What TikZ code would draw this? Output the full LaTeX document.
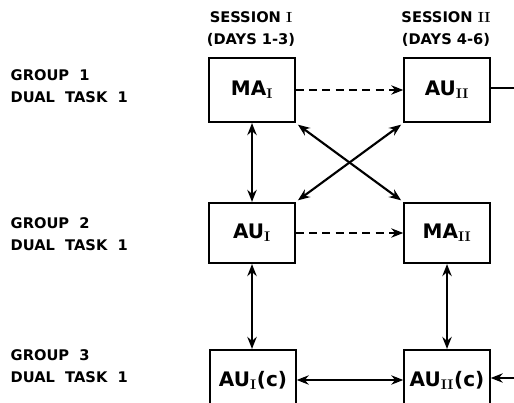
\documentclass[tikz,border=0pt]{standalone}
\usepackage{fontspec}
\setsansfont{DejaVu Sans}
\usetikzlibrary{arrows.meta}

\begin{document}
\begin{tikzpicture}[x=0.75pt,y=-0.75pt,
  font=\sffamily\bfseries,
  box/.style={draw,line width=1.6pt,minimum width=64pt,minimum height=48pt,
    inner sep=1pt,font=\sffamily\bfseries\fontsize{15}{17}\selectfont},
  lbl/.style={align=left,anchor=west,font=\sffamily\bfseries\fontsize{11}{16.5}\selectfont},
  hdr/.style={align=center,font=\sffamily\bfseries\fontsize{11}{16.5}\selectfont},
  arr/.style={line width=1.6pt,-{Stealth[length=9pt,width=7pt]}},
  dbl/.style={line width=1.6pt,{Stealth[length=9pt,width=7pt]}-{Stealth[length=9pt,width=7pt]}},
  dsh/.style={arr,dash pattern=on 6pt off 4pt}]
  \useasboundingbox (0,0) rectangle (514,403);
  \clip (0,0) rectangle (514,403);
  % Column heads, one per session.
  \node[hdr] (s1) at (251,29) {SESSION \textrm{I}\\(DAYS 1-3)};
  \node[hdr] (s2) at (446,29) {SESSION \textrm{II}\\(DAYS 4-6)};
  % Row labels for the three groups.
  \node[lbl] (g1) at (6,86) {GROUP\ \ 1\\DUAL\ \ TASK\ \ 1};
  \node[lbl] (g2) at (6,234) {GROUP\ \ 2\\DUAL\ \ TASK\ \ 1};
  \node[lbl] (g3) at (6,366) {GROUP\ \ 3\\DUAL\ \ TASK\ \ 1};
  % The six conditions.
  \node[box] (ma1) at (252,90) {MA\textsubscript{\textrm{I}}};
  \node[box] (au2) at (447,90) {AU\textsubscript{\textrm{II}}};
  \node[box,minimum height=45pt] (au1) at (252,233) {AU\textsubscript{\textrm{I}}};
  \node[box,minimum height=45pt] (ma2) at (447,233) {MA\textsubscript{\textrm{II}}};
  \node[box,minimum height=45pt] (au1c) at (253,380) {AU\textsubscript{\textrm{I}}(c)};
  \node[box,minimum height=45pt] (au2c) at (447,380) {AU\textsubscript{\textrm{II}}(c)};
  % Session to session, dashed.
  \draw[dsh] (ma1.east) -- (au2.west);
  \draw[dsh] (au1.east) -- (ma2.west);
  % Comparisons between groups.
  \draw[dbl] (ma1.south) -- (au1.north);
  \draw[dbl] (au1.south) -- (au1.south |- au1c.north);
  \draw[dbl] (ma2.south) -- (au2c.north);
  \draw[dbl,shorten <=2pt,shorten >=2pt] (ma1.south east) -- (ma2.north west);
  \draw[dbl,shorten <=2pt,shorten >=2pt] (au2.south west) -- (au1.north east);
  \draw[dbl] (au1c.east) -- (au2c.west);
  % Path leaving the frame on the right.
  \coordinate (outA) at (530,88);
  \coordinate (outB) at (530,378);
  \draw[line width=1.6pt] (au2.east |- outA) -- (outA);
  \draw[arr] (outB) -- (au2c.east |- outB);
\end{tikzpicture}
\end{document}
